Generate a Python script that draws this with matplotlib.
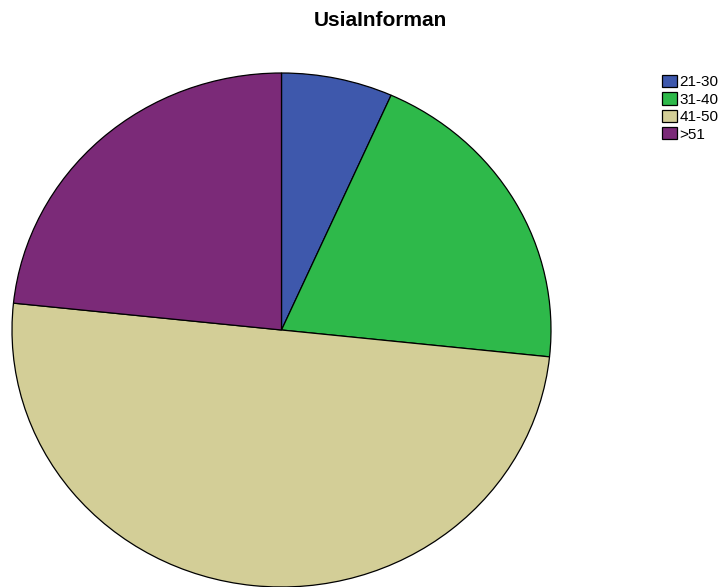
import matplotlib
matplotlib.use("Agg")
import matplotlib.pyplot as plt

labels = ["21-30", "31-40", "41-50", ">51"]
counts = [2, 6, 15, 7]
colors = ["#3E58AC", "#2EB94A", "#D3CE97", "#7B2A78"]

fig = plt.figure(figsize=(7.22, 5.87), dpi=100)
W, H = 722, 587
left, right, top, bottom = 12, 551, 73, 587
ax = fig.add_axes([left / W, 1 - bottom / H, (right - left) / W, (bottom - top) / H])
wedges, _ = ax.pie(counts, colors=colors, startangle=90, counterclock=False,
                   wedgeprops=dict(edgecolor="black", linewidth=0.9))
ax.set_aspect("auto")
ax.set_xlim(-1, 1)
ax.set_ylim(-1, 1)
ax.axis("off")
for w in wedges:
    w.set_clip_on(False)

fig.text(380 / W, 1 - 21 / H, "UsiaInforman", ha="center", va="center",
         fontsize=15, fontweight="bold", family="Liberation Sans")

fig.legend(wedges, labels, loc="upper left", bbox_to_anchor=(662 / W, 1 - 75 / H),
           frameon=False, handlelength=0.95, handleheight=0.85,
           handletextpad=0.2, labelspacing=0.2, borderpad=0, borderaxespad=0,
           prop={"family": "Liberation Sans", "size": 11})

fig.savefig("out.png", dpi=100)
